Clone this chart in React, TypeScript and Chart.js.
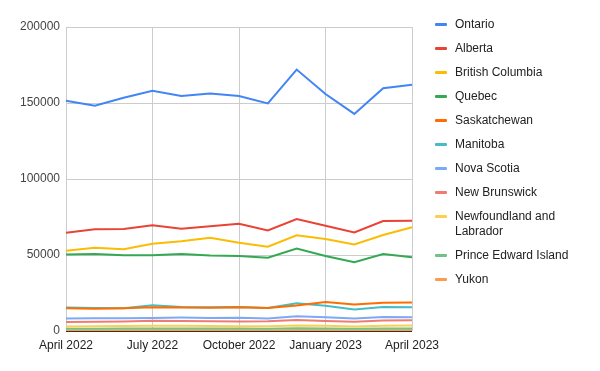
import React, { useEffect, useRef } from "react";
import { Chart, registerables } from "chart.js";

Chart.register(...registerables);

const months = [
  "April 2022", "May 2022", "June 2022", "July 2022", "August 2022", "September 2022",
  "October 2022", "November 2022", "December 2022", "January 2023", "February 2023",
  "March 2023", "April 2023",
];

const ontario = [151500, 148200, 153500, 158000, 154600, 156300, 154600, 149700, 172000, 155900, 142800, 159700, 162000];
const alberta = [64700, 66900, 67100, 69500, 67200, 68900, 70600, 66200, 73700, 69300, 64900, 72400, 72600];
const britishColumbia = [52800, 54800, 53800, 57400, 59000, 61400, 58100, 55500, 63000, 60500, 57000, 63200, 68200];
const quebec = [50400, 50600, 49800, 49900, 50700, 49600, 49400, 48200, 54200, 49300, 45200, 50700, 48500];
const saskatchewan = [15000, 14700, 15000, 15600, 15400, 15300, 15600, 15200, 16800, 19100, 17400, 18600, 18800];
const manitoba = [15500, 15200, 15000, 16900, 15800, 15600, 15800, 15100, 18200, 16600, 14100, 15800, 15700];
const novaScotia = [8300, 8400, 8400, 8600, 8800, 8600, 8700, 8300, 9700, 9000, 8300, 9200, 9000];
const newBrunswick = [6000, 6100, 6300, 6700, 6500, 6400, 6300, 6400, 7200, 6600, 6100, 6900, 7000];
const newfoundland = [3000, 3200, 3300, 3500, 3400, 3300, 3200, 3200, 3700, 3400, 3000, 3500, 3600];
const princeEdward = [1500, 1500, 1600, 1700, 1600, 1600, 1600, 1500, 1800, 1600, 1400, 1700, 1700];
const yukon = [400, 400, 450, 500, 450, 450, 450, 400, 500, 450, 400, 450, 500];

const yTicks = [0, 50000, 100000, 150000, 200000];

const seriesNames = [
  "Ontario", "Alberta", "British Columbia", "Quebec", "Saskatchewan", "Manitoba",
  "Nova Scotia", "New Brunswick", "Newfoundland and Labrador", "Prince Edward Island", "Yukon",
];
const seriesData = [
  ontario, alberta, britishColumbia, quebec, saskatchewan, manitoba,
  novaScotia, newBrunswick, newfoundland, princeEdward, yukon,
];
const seriesColors = [
  "#4285F4", "#EA4335", "#FBBC04", "#34A853", "#FF6D01", "#46BDC6",
  "#7BAAF7", "#F07B72", "#FCD04F", "#71C287", "#FF994D",
];

const FONT = "Arial, 'Liberation Sans', sans-serif";

export default function App() {
  const ref = useRef<HTMLCanvasElement | null>(null);

  useEffect(() => {
    document.body.style.margin = "0";
    if (!ref.current) return;
    const chart = new Chart(ref.current, {
      type: "line",
      data: {
        labels: months,
        datasets: seriesNames.map((name, i) => ({
          label: name,
          data: seriesData[i],
          borderColor: seriesColors[i],
          backgroundColor: seriesColors[i],
          borderWidth: 2,
          pointRadius: 0,
          tension: 0,
          fill: false,
        })),
      },
      options: {
        animation: false,
        responsive: false,
        maintainAspectRatio: false,
        layout: { padding: { left: 0, right: 188, top: 27, bottom: 0 } },
        plugins: {
          legend: { display: false },
          tooltip: { enabled: false },
        },
        scales: {
          x: {
            type: "category",
            offset: false,
            grid: {
              color: (ctx: any) => (ctx.index % 3 === 0 ? "#cccccc" : "rgba(0,0,0,0)"),
              drawTicks: false,
            },
            border: { display: false },
            ticks: {
              autoSkip: false,
              maxRotation: 0,
              minRotation: 0,
              padding: 7,
              color: "#222222",
              font: { family: FONT, size: 12 },
              callback: (_v: any, i: number) => (i % 3 === 0 ? months[i] : ""),
            },
            afterFit: (s: any) => {
              s.height = 40;
            },
          },
          y: {
            min: 0,
            max: 200000,
            afterBuildTicks: (s: any) => {
              s.ticks = yTicks.map((v) => ({ value: v }));
            },
            grid: {
              color: (ctx: any) => (ctx.tick && ctx.tick.value === 0 ? "#333333" : "#cccccc"),
              drawTicks: false,
            },
            border: { display: false },
            ticks: {
              padding: 6,
              color: "#444444",
              font: { family: FONT, size: 12 },
              callback: (v: any) => String(v),
            },
            afterFit: (s: any) => {
              s.width = 66;
            },
          },
        },
      },
    });
    return () => chart.destroy();
  }, []);

  return (
    <div style={{ position: "relative", width: 600, height: 371, background: "#fff", fontFamily: FONT }}>
      <canvas ref={ref} width={600} height={371} style={{ display: "block" }} />
      <div style={{ position: "absolute", left: 435, top: 17, width: 160 }}>
        {seriesNames.map((name, i) => (
          <div key={name} style={{ display: "flex", alignItems: "flex-start", marginBottom: 9 }}>
            <div
              style={{
                width: 12,
                height: 3,
                background: seriesColors[i],
                marginTop: 6,
                marginRight: 8,
                flex: "0 0 auto",
                borderRadius: 1,
              }}
            />
            <div style={{ fontSize: 12, lineHeight: "15px", color: "#222222", width: 125 }}>{name}</div>
          </div>
        ))}
      </div>
    </div>
  );
}
